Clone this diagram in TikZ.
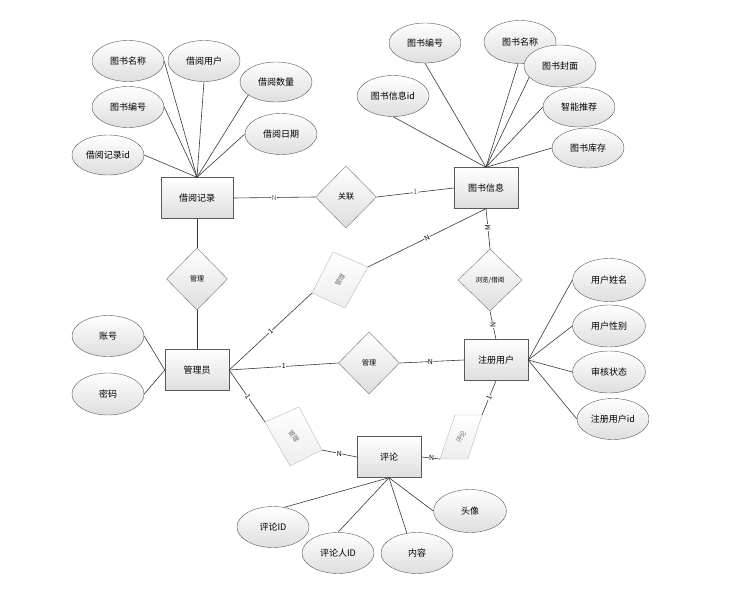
\documentclass[tikz,border=0pt]{standalone}
\usepackage{fontspec}
\setmainfont{Noto Sans CJK SC}
\usetikzlibrary{shapes.geometric}
\begin{document}
\begin{tikzpicture}[x=1pt,y=-1pt,
 ent/.style={draw=black!65, top color=white, bottom color=black!13, minimum width=64pt, minimum height=41pt, inner sep=0pt, font=\fontsize{9}{10}\selectfont},
 att/.style={ellipse, draw=black!65, top color=white, bottom color=black!13, minimum width=72pt, minimum height=41pt, inner sep=0pt, font=\fontsize{9}{10}\selectfont},
 rel/.style={diamond, draw=black!55, top color=white, bottom color=black!13, minimum width=61pt, minimum height=62pt, inner sep=0pt, font=\fontsize{7}{8}\selectfont},
 faint/.style={draw=black!28, top color=white, bottom color=black!7},
 fainttxt/.style={text=black!55, font=\fontsize{6.5}{7}\selectfont, inner sep=0pt},
 ln/.style={draw=black!78, line width=0.6pt},
 lbl/.style={font=\fontsize{7}{8}\selectfont, fill=white, inner sep=0.4pt},
]
\useasboundingbox (0,0) rectangle (732,594);

% entities
\node[ent, minimum width=72pt] (jy) at (197,198) {借阅记录};
\node[ent] (ts) at (486,188) {图书信息};
\node[ent] (gly) at (197,370) {管理员};
\node[ent] (zc) at (496,360) {注册用户};
\node[ent] (pl) at (389,457) {评论};

% relationships
\node[rel] (gl1) at (346,197) {\fontsize{8}{9}\selectfont 关联};
\node[rel] (gl0) at (197,279) {管理};
\node[rel, minimum width=64pt] (ll) at (490,280) {\fontsize{6.5}{7}\selectfont 浏览/借阅};
\node[rel] (gl2) at (369,363) {管理};

% faint relationships
\coordinate (A1) at (333,252); \coordinate (A2) at (368,267);
\coordinate (A3) at (345,308); \coordinate (A4) at (312,293);
\draw[faint] (A1) -- (A2) -- (A3) -- (A4) -- cycle;
\node[fainttxt, rotate=60] (fa) at (340,280) {管理};
\coordinate (B1) at (265,422); \coordinate (B2) at (299,407);
\coordinate (B3) at (322,450); \coordinate (B4) at (290,466);
\draw[faint] (B1) -- (B2) -- (B3) -- (B4) -- cycle;
\node[fainttxt, rotate=-55] (fb) at (294,436) {管理};
\coordinate (C1) at (455,415); \coordinate (C2) at (482,415);
\coordinate (C3) at (468,459); \coordinate (C4) at (440,459);
\draw[faint] (C1) -- (C2) -- (C3) -- (C4) -- cycle;
\node[fainttxt, rotate=60] (fc) at (461,437) {评论};

% attributes of 借阅记录
\node[att] (a1) at (128,61) {图书名称};
\node[att] (a2) at (204,61) {借阅用户};
\node[att, minimum height=40pt] (a3) at (276,82) {借阅数量};
\node[att] (a4) at (128,107) {图书编号};
\node[att] (a5) at (281,134) {借阅日期};
\node[att, minimum height=40pt] (a6) at (108,155) {借阅记录id};
\draw[ln] (a1.east) -- (jy.north);
\draw[ln] (a2.south) -- (jy.north);
\draw[ln] (a3.205) -- (jy.north);
\draw[ln] (a4.east) -- (jy.north);
\draw[ln] (a5.west) -- (jy.north);
\draw[ln] (a6.east) -- (jy.north);

% attributes of 图书信息
\node[att, minimum height=40pt] (b1) at (425,43) {图书编号};
\node[att, minimum height=43pt] (b2) at (520,42) {图书名称};
\node[att, minimum height=42pt] (b3) at (560,66) {图书封面};
\node[att, minimum height=40pt] (b4) at (579,107) {智能推荐};
\node[att, minimum height=40pt] (b5) at (588,148) {图书库存};
\node[att] (b6) at (393,96) {图书信息id};
\draw[ln] (b1.south) -- (ts.north);
\draw[ln] (b2.265) -- (ts.north);
\draw[ln] (b3.200) -- (ts.north);
\draw[ln] (b4.west) -- (ts.north);
\draw[ln] (b5.west) -- (ts.north);
\draw[ln] (b6.south) -- (ts.north);

% attributes of 注册用户
\node[att, minimum width=73pt, minimum height=43pt] (c1) at (609,280) {用户姓名};
\node[att, minimum width=73pt, minimum height=42pt] (c2) at (609,326) {用户性别};
\node[att, minimum width=73pt, minimum height=42pt] (c3) at (609,372) {审核状态};
\node[att, minimum height=41pt] (c4) at (613,419) {注册用户id};
\draw[ln] (c1.west) -- (zc.east);
\draw[ln] (c2.west) -- (zc.east);
\draw[ln] (c3.west) -- (zc.east);
\draw[ln] (c4.west) -- (zc.east);

% attributes of 管理员
\node[att] (d1) at (108,336) {账号};
\node[att, minimum height=42pt] (d2) at (108,394) {密码};
\draw[ln] (d1.east) -- (gly.west);
\draw[ln] (d2.east) -- (gly.west);

% attributes of 评论
\node[att] (e1) at (273,527) {评论ID};
\node[att] (e2) at (338,553) {评论人ID};
\node[att] (e3) at (417,553) {内容};
\node[att, minimum width=73pt, minimum height=43pt] (e4) at (470,511) {头像};
\draw[ln] (e1.60) -- (pl.south);
\draw[ln] (e2.north) -- (pl.south);
\draw[ln] (e3.117) -- (pl.south);
\draw[ln] (e4.west) -- (pl.south);

% relationship connectors
\draw[ln] (jy.east) -- node[lbl, text=black!55] {N} (gl1.west);
\draw[ln] (gl1.east) -- node[lbl, text=black!60] {1} (ts.west);
\draw[ln] (jy.south) -- (gl0.north);
\draw[ln] (gl0.south) -- (gly.north);
\draw[ln] (gly.east) -- node[lbl, sloped] {1} (A4);
\draw[ln] (A2) -- node[lbl, sloped] {N} (ts.south);
\draw[ln] (ts.south) -- node[lbl, rotate=90, pos=0.47] {M} (ll.north);
\draw[ln] (ll.south) -- node[lbl, rotate=90] {N} (zc.north);
\draw[ln] (gly.east) -- node[lbl] {1} (gl2.west);
\draw[ln] (gl2.east) -- node[lbl, pos=0.48] {N} (zc.west);
\draw[ln] (gly.east) -- node[lbl, sloped, pos=0.52] {1} (B1);
\draw[ln] (B3) -- node[lbl] {N} (pl.west);
\draw[ln] (pl.east) -- node[lbl, pos=0.55] {N} (C4);
\draw[ln] (C2) -- node[lbl, sloped] {1} (zc.south);
\end{tikzpicture}
\end{document}
